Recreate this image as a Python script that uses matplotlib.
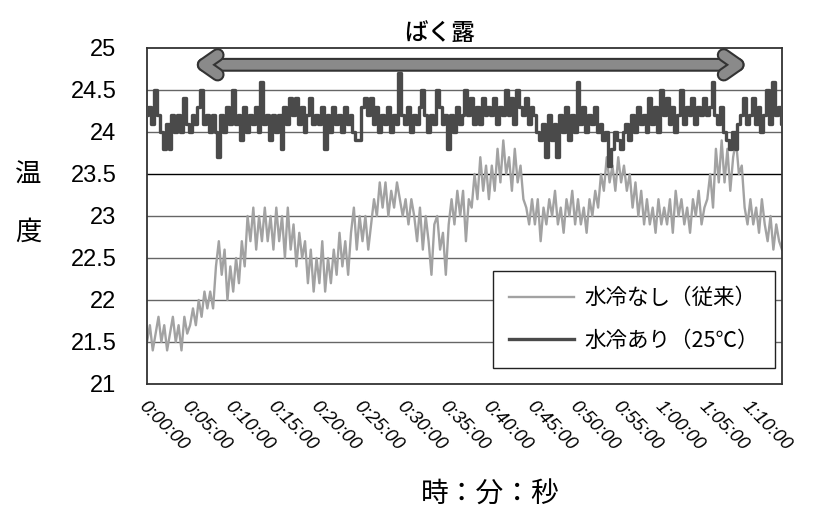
import numpy as np
import matplotlib
matplotlib.use("Agg")
import matplotlib.pyplot as plt
import matplotlib.patheffects as pe

plt.rcParams['font.family'] = ['Liberation Sans', 'Noto Sans CJK JP', 'DejaVu Sans']

# samples every 20 s, one row = 5 minutes
temp_nashi = [
    21.5, 21.7, 21.4, 21.6, 21.8, 21.5, 21.7, 21.4, 21.6, 21.8, 21.5, 21.7, 21.4, 21.8, 21.6,
    21.7, 21.9, 21.7, 22.0, 21.8, 22.1, 21.9, 22.1, 21.9, 22.4, 22.7, 22.3, 22.6, 22.0, 22.4,
    22.1, 22.5, 22.2, 22.7, 22.4, 23.0, 22.7, 23.1, 22.6, 23.0, 22.7, 23.1, 22.7, 23.0, 22.6,
    23.1, 22.7, 23.0, 22.5, 23.1, 22.6, 22.9, 22.4, 22.8, 22.5, 22.7, 22.2, 22.6, 22.1, 22.5,
    22.2, 22.7, 22.1, 22.5, 22.2, 22.6, 22.3, 22.8, 22.4, 22.7, 22.3, 22.8, 23.1, 22.6, 23.0,
    22.7, 23.0, 22.6, 22.9, 23.2, 23.0, 23.4, 23.1, 23.4, 23.0, 23.3, 23.1, 23.4, 23.2, 23.0,
    23.2, 22.9, 23.2, 23.0, 22.7, 23.1, 22.6, 23.0, 22.7, 22.3, 22.9, 23.0, 22.6, 22.8, 22.3,
    22.9, 23.2, 22.9, 23.3, 23.0, 23.3, 22.7, 23.2, 23.1, 23.5, 23.2, 23.7, 23.3, 23.6, 23.2,
    23.6, 23.3, 23.8, 23.4, 23.9, 23.5, 23.7, 23.3, 23.8, 23.4, 23.6, 23.2, 23.1, 22.9, 23.2,
    22.9, 23.2, 22.7, 23.1, 22.9, 23.2, 23.0, 23.3, 22.9, 23.1, 22.8, 23.2, 23.0, 23.3, 22.9,
    23.2, 22.9, 23.1, 22.8, 23.2, 23.0, 23.3, 23.1, 23.5, 23.3, 23.7, 23.4, 23.6, 23.3, 23.7,
    23.4, 23.6, 23.3, 23.5, 23.1, 23.4, 23.0, 23.3, 22.9, 23.2, 22.9, 23.1, 22.8, 23.2, 22.9,
    23.1, 22.9, 23.2, 22.8, 23.3, 23.0, 23.2, 22.9, 23.1, 22.8, 23.2, 23.0, 23.3, 22.9, 23.1,
    23.2, 23.5, 23.1, 23.8, 23.4, 23.9, 23.4, 23.8, 23.3, 23.7, 23.9, 23.5, 23.6, 23.1, 22.9,
    23.2, 22.9, 23.1, 22.8, 23.2, 22.9, 22.7, 23.0, 22.6, 22.9, 22.7, 22.6,
]

temp_ari = [
    24.2, 24.3, 24.1, 24.5, 24.2, 24.0, 23.8, 24.1, 23.8, 24.2, 24.0, 24.2, 24.0, 24.4, 24.1,
    24.0, 24.2, 24.1, 24.3, 24.5, 24.1, 24.2, 24.0, 24.2, 24.0, 23.7, 24.2, 24.0, 24.3, 24.1,
    24.5, 24.1, 24.2, 23.9, 24.3, 24.0, 24.2, 24.1, 24.3, 24.0, 24.6, 24.1, 24.2, 23.9, 24.2,
    24.0, 24.2, 23.8, 24.3, 24.1, 24.4, 24.2, 24.4, 24.1, 24.3, 24.0, 24.2, 24.4, 24.1, 24.2,
    24.1, 24.3, 23.8, 24.2, 24.0, 24.3, 24.1, 24.2, 24.0, 24.3, 24.1, 24.2, 24.0, 23.9, 23.9,
    24.3, 24.4, 24.2, 24.4, 24.1, 24.3, 24.0, 24.2, 24.1, 24.3, 24.0, 24.2, 24.1, 24.7, 24.2,
    24.1, 24.3, 24.0, 24.2, 24.1, 24.3, 24.5, 24.2, 24.0, 24.2, 24.1, 24.5, 24.3, 24.1, 24.2,
    23.8, 24.2, 24.0, 24.3, 24.1, 24.2, 24.5, 24.2, 24.4, 24.1, 24.3, 24.1, 24.4, 24.2, 24.3,
    24.2, 24.4, 24.1, 24.3, 24.2, 24.5, 24.2, 24.4, 24.1, 24.5, 24.3, 24.2, 24.4, 24.1, 24.3,
    24.2, 24.0, 23.9, 24.1, 23.7, 24.2, 23.9, 24.1, 23.7, 24.2, 24.0, 24.3, 23.9, 24.2, 24.0,
    24.6, 24.1, 24.3, 24.0, 24.2, 24.1, 24.3, 24.0, 24.1, 23.9, 24.0, 23.6, 23.8, 24.0, 23.9,
    23.8, 24.0, 24.1, 23.9, 24.2, 24.0, 24.3, 24.1, 24.2, 24.0, 24.4, 24.1, 24.3, 24.0, 24.5,
    24.2, 24.4, 24.1, 24.3, 24.0, 24.2, 24.5, 24.1, 24.3, 24.2, 24.4, 24.1, 24.3, 24.2, 24.4,
    24.2, 24.3, 24.6, 24.2, 24.1, 24.3, 24.0, 23.9, 23.8, 24.0, 23.8, 24.1, 24.2, 24.4, 24.1,
    24.2, 24.4, 24.1, 24.3, 24.0, 24.2, 24.5, 24.1, 24.6, 24.2, 24.3, 24.1,
]

tick_minutes = [0, 5, 10, 15, 20, 25, 30, 35, 40, 45, 50, 55, 60, 65, 70]
tick_labels = ['0:00:00', '0:05:00', '0:10:00', '0:15:00', '0:20:00', '0:25:00', '0:30:00',
               '0:35:00', '0:40:00', '0:45:00', '0:50:00', '0:55:00', '1:00:00', '1:05:00',
               '1:10:00']
y_ticks = [21, 21.5, 22, 22.5, 23, 23.5, 24, 24.5, 25]
y_labels = ['21', '21.5', '22', '22.5', '23', '23.5', '24', '24.5', '25']

t = np.arange(len(temp_nashi)) / 3.0  # minutes

fig = plt.figure(figsize=(8.15, 5.12), dpi=100)
ax = fig.add_axes([147 / 815, 128 / 512, 635 / 815, 336 / 512])

for yv in y_ticks[1:-1]:
    ax.axhline(yv, color='black' if yv == 23.5 else '#666666', lw=1.0, zorder=1)

ax.plot(t, temp_nashi, color='#a2a2a2', lw=1.7, label='水冷なし（従来）', zorder=2)
ax.plot(t, temp_ari, color='#4a4a4a', lw=2.4, drawstyle='steps-mid',
        label='水冷あり（25℃）', zorder=3)

ax.set_xlim(0, t[-1])
ax.set_ylim(21, 25)
ax.set_yticks(y_ticks)
ax.set_yticklabels(y_labels, fontsize=17)
ax.set_xticks(tick_minutes)
ax.set_xticklabels(tick_labels, fontsize=13.5, rotation=-45, ha='left', va='top',
                   rotation_mode='anchor', style='italic')
ax.tick_params(axis='both', length=0)
ax.tick_params(axis='y', pad=22)
ax.tick_params(axis='x', pad=10)
for s in ax.spines.values():
    s.set_color('#333333')
    s.set_linewidth(1.3)

# exposure arrow
ax.annotate('', xy=(69.5, 24.8), xytext=(5.6, 24.8), zorder=4,
            arrowprops=dict(arrowstyle='<->,head_length=1.0,head_width=0.7', lw=7,
                            color='#8a8a8a', shrinkA=0, shrinkB=0,
                            path_effects=[pe.withStroke(linewidth=10, foreground='#333333')]))
fig.text(440 / 815, 1 - 33 / 512, 'ばく露', fontsize=17, ha='center', va='center',
         family=['Noto Sans CJK JP'], weight='medium')

fig.text(28 / 815, 1 - 175 / 512, '温', fontsize=19, ha='center', va='center',
         family=['Noto Sans CJK JP'])
fig.text(28 / 815, 1 - 232 / 512, '度', fontsize=19, ha='center', va='center',
         family=['Noto Sans CJK JP'])
fig.text(490 / 815, 1 - 495 / 512, '時：分：秒', fontsize=20, ha='center', va='center',
         family=['Noto Sans CJK JP'])

leg = ax.legend(loc='lower right', bbox_to_anchor=(0.989, 0.048), borderaxespad=0,
                frameon=True, fancybox=False, edgecolor='#222222', framealpha=1,
                handlelength=3.0, handletextpad=0.5, labelspacing=0.95, borderpad=0.75,
                prop={'family': ['Noto Sans CJK JP', 'DejaVu Sans'], 'size': 15.5})
leg.get_frame().set_linewidth(1.0)

fig.savefig('out.png', dpi=100)
